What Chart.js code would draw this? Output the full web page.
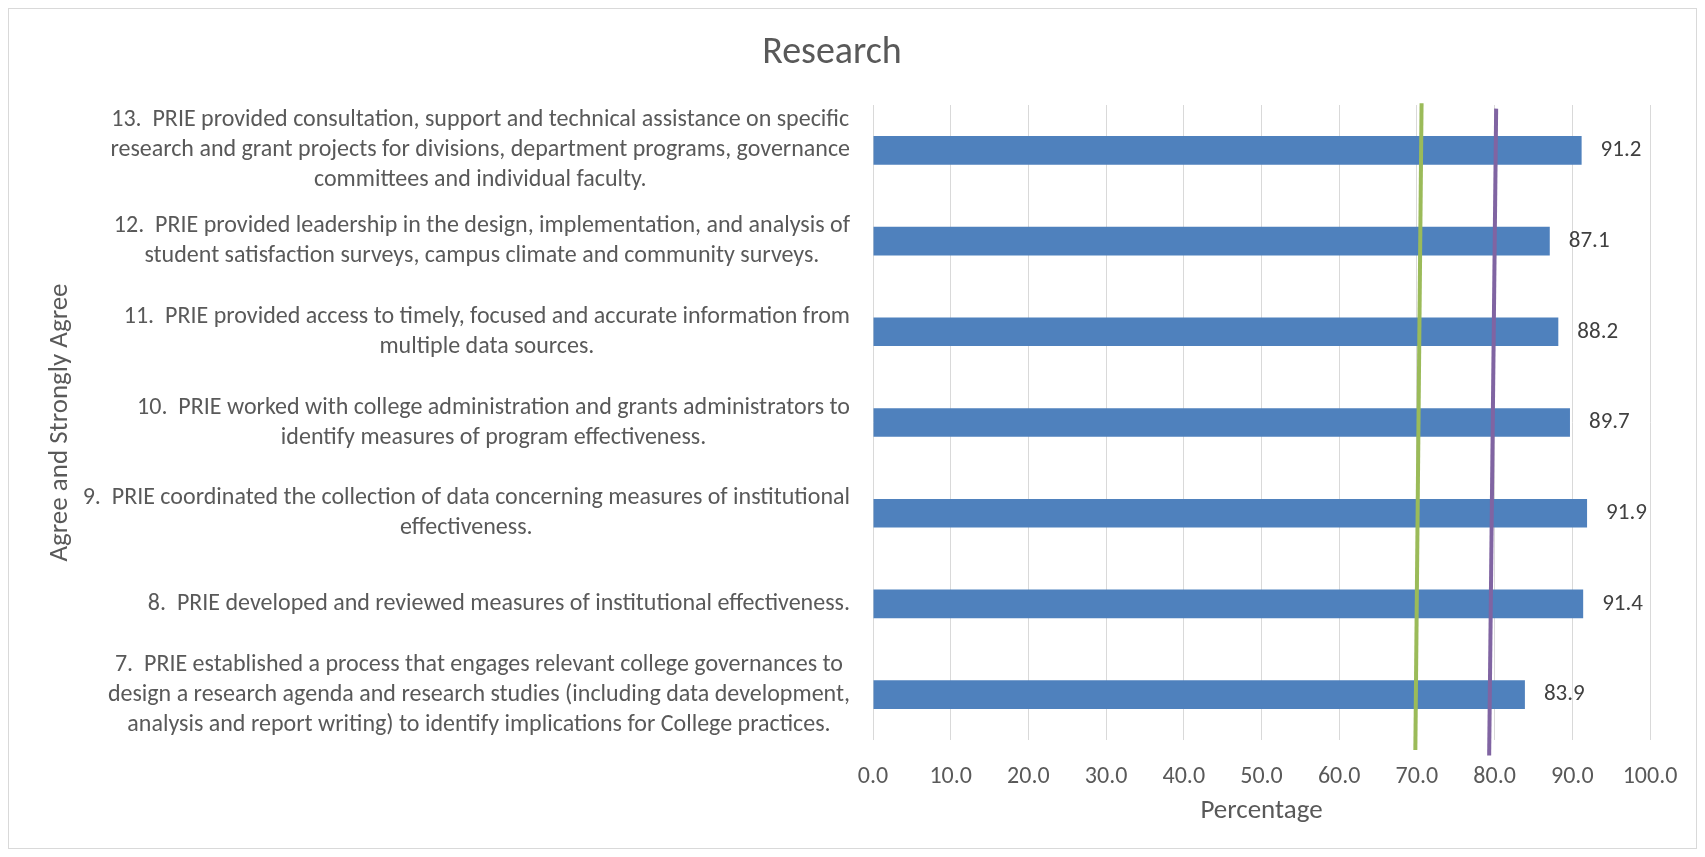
<!DOCTYPE html>
<html lang="en">
<head>
  <meta charset="UTF-8">
  <title>Research</title>
  <script src="https://cdn.jsdelivr.net/npm/chart.js"></script>
  <style>
    body { margin: 0; background: #fff; }
    #wrap { width: 1705px; height: 857px; position: relative; }
  </style>
</head>
<body>
  <div id="wrap"><canvas id="researchChart"></canvas></div>

  <script>
    const FONT = "Carlito, 'Liberation Sans Narrow', 'DejaVu Sans Condensed', sans-serif";

    // survey items, top to bottom
    const items = [
      ['13.  PRIE provided consultation, support and technical assistance on specific',
       'research and grant projects for divisions, department programs, governance',
       'committees and individual faculty.'],
      ['12.  PRIE provided leadership in the design, implementation, and analysis of',
       'student satisfaction surveys, campus climate and community surveys.'],
      ['11.  PRIE provided access to timely, focused and accurate information from',
       'multiple data sources.'],
      ['10.  PRIE worked with college administration and grants administrators to',
       'identify measures of program effectiveness.'],
      ['9.  PRIE coordinated the collection of data concerning measures of institutional',
       'effectiveness.'],
      ['8.  PRIE developed and reviewed measures of institutional effectiveness.'],
      ['7.  PRIE established a process that engages relevant college governances to',
       'design a research agenda and research studies (including data development,',
       'analysis and report writing) to identify implications for College practices.']
    ];
    const agreePct = [91.2, 87.1, 88.2, 89.7, 91.9, 91.4, 83.9];

    // hand drawn reference lines (x = percentage, y = item position, -0.5 = top edge)
    const greenX = [70.6, 69.8];
    const greenY = [-0.52, 6.61];
    const purpleX = [80.2, 79.3];
    const purpleY = [-0.46, 6.67];

    const TEXT = '#595959';

    const extras = {
      id: 'extras',
      beforeDraw(chart) {
        const ctx = chart.ctx;
        ctx.save();
        ctx.fillStyle = '#fff';
        ctx.fillRect(0, 0, chart.width, chart.height);
        ctx.strokeStyle = '#D9D9D9';
        ctx.lineWidth = 1;
        ctx.strokeRect(8.5, 8.5, chart.width - 17, chart.height - 17);
        ctx.fillStyle = TEXT;
        ctx.font = '38px ' + FONT;
        ctx.textAlign = 'center';
        ctx.textBaseline = 'middle';
        ctx.fillText('Research', 832, 53);
        ctx.restore();
      },
      afterDatasetsDraw(chart) {
        const ctx = chart.ctx;
        const x = chart.scales.x, y = chart.scales.y;
        ctx.save();
        ctx.textBaseline = 'middle';

        // category labels: block right aligned to axis, lines centred in block
        ctx.font = '24px ' + FONT;
        ctx.fillStyle = TEXT;
        const right = chart.chartArea.left - 23;
        const lineH = 30;
        chart.data.labels.forEach((lines, i) => {
          const cy = y.getPixelForValue(i);
          const w = Math.max(...lines.map(l => ctx.measureText(l).width));
          const cx = right - w / 2;
          ctx.textAlign = 'center';
          lines.forEach((l, k) => {
            ctx.fillText(l, cx, cy + (k - (lines.length - 1) / 2) * lineH);
          });
        });

        // value labels
        ctx.font = '23px ' + FONT;
        ctx.fillStyle = '#404040';
        ctx.textAlign = 'left';
        const meta = chart.getDatasetMeta(0);
        meta.data.forEach((bar, i) => {
          ctx.fillText(agreePct[i].toFixed(1), x.getPixelForValue(agreePct[i]) + 19, bar.y);
        });
        ctx.restore();
      }
    };

    const ctx = document.getElementById('researchChart').getContext('2d');
    new Chart(ctx, {
      type: 'bar',
      data: {
        labels: items,
        datasets: [
          {
            label: 'Agree and Strongly Agree',
            data: agreePct,
            backgroundColor: '#4F81BD',
            barPercentage: 0.316,
            categoryPercentage: 1,
            grouped: false,
            order: 2
          },
          {
            type: 'line',
            label: 'green',
            data: greenX.map((v, i) => ({ x: v, y: greenY[i] })),
            yAxisID: 'yRef',
            borderColor: '#9BBB59',
            borderWidth: 4,
            pointRadius: 0,
            clip: false,
            order: 1
          },
          {
            type: 'line',
            label: 'purple',
            data: purpleX.map((v, i) => ({ x: v, y: purpleY[i] })),
            yAxisID: 'yRef',
            borderColor: '#8064A2',
            borderWidth: 4,
            pointRadius: 0,
            clip: false,
            order: 1
          }
        ]
      },
      options: {
        indexAxis: 'y',
        responsive: true,
        maintainAspectRatio: false,
        animation: false,
        layout: { padding: { left: 44, right: 55, top: 105, bottom: 30 } },
        plugins: {
          legend: { display: false },
          tooltip: { enabled: false },
          title: { display: false }
        },
        scales: {
          x: {
            min: 0,
            max: 100,
            ticks: {
              stepSize: 10,
              padding: 23,
              maxRotation: 0,
              color: TEXT,
              font: { family: FONT, size: 24 },
              callback: v => v.toFixed(1)
            },
            grid: { color: '#D9D9D9', drawTicks: false, tickLength: 0 },
            border: { display: false },
            title: {
              display: true,
              text: 'Percentage',
              color: TEXT,
              font: { family: FONT, size: 27 },
              padding: { top: 4, bottom: 0 }
            },
            afterFit(scale) { scale.height = 87; }
          },
          y: {
            ticks: { display: false },
            grid: { display: false },
            border: { display: false },
            title: {
              display: true,
              text: 'Agree and Strongly Agree',
              color: TEXT,
              font: { family: FONT, size: 27 },
              padding: 0
            },
            afterFit(scale) { scale.width = 829; }
          },
          yRef: {
            type: 'linear',
            display: false,
            offset: false,
            min: -0.5,
            max: 6.5,
            reverse: true,
            grid: { offset: false }
          }
        }
      },
      plugins: [extras]
    });
  </script>
</body>
</html>
